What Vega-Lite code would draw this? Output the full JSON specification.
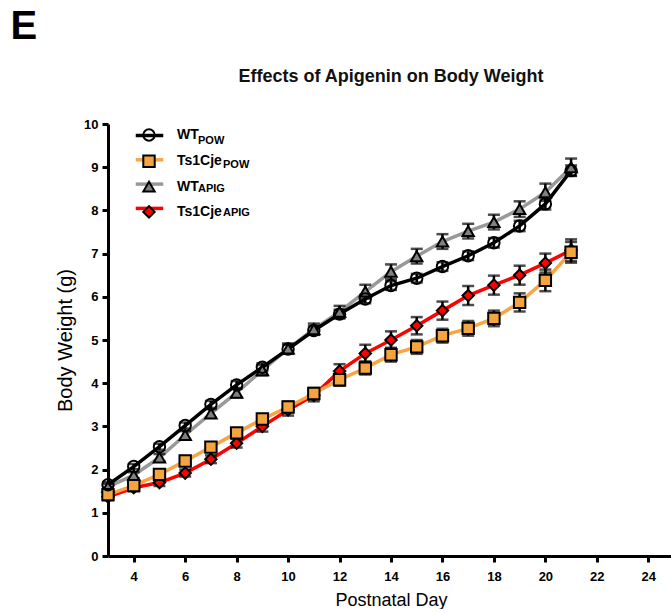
{
  "$schema": "https://vega.github.io/schema/vega-lite/v6.json",
  "background": "white",
  "padding": {"left": 10, "top": 7, "right": 0, "bottom": 0},
  "title": {"text": "E", "anchor": "start", "frame": "bounds", "font": "Liberation Sans", "fontSize": 40, "fontWeight": "bold", "color": "black", "dx": -45, "offset": 21},
  "config": {
    "view": {"stroke": null},
    "font": "Liberation Sans",
    "concat": {"spacing": 0}
  },
  "hconcat": [
    {
      "width": 566,
      "height": 432,
      "title": {"text": "Effects of Apigenin on Body Weight", "anchor": "middle", "font": "Liberation Sans", "fontSize": 18, "fontWeight": "bold", "color": "#111111", "offset": 32},
      "data": {
        "values": [
          {"day": 3, "group": "Ts1Cje_APIG", "mean": 1.37, "sem": 0.08},
          {"day": 4, "group": "Ts1Cje_APIG", "mean": 1.58, "sem": 0.08},
          {"day": 5, "group": "Ts1Cje_APIG", "mean": 1.7, "sem": 0.08},
          {"day": 6, "group": "Ts1Cje_APIG", "mean": 1.92, "sem": 0.08},
          {"day": 7, "group": "Ts1Cje_APIG", "mean": 2.24, "sem": 0.09},
          {"day": 8, "group": "Ts1Cje_APIG", "mean": 2.61, "sem": 0.1},
          {"day": 9, "group": "Ts1Cje_APIG", "mean": 3.0, "sem": 0.12},
          {"day": 10, "group": "Ts1Cje_APIG", "mean": 3.38, "sem": 0.13},
          {"day": 11, "group": "Ts1Cje_APIG", "mean": 3.72, "sem": 0.14},
          {"day": 12, "group": "Ts1Cje_APIG", "mean": 4.28, "sem": 0.16},
          {"day": 13, "group": "Ts1Cje_APIG", "mean": 4.69, "sem": 0.2},
          {"day": 14, "group": "Ts1Cje_APIG", "mean": 5.0, "sem": 0.2},
          {"day": 15, "group": "Ts1Cje_APIG", "mean": 5.33, "sem": 0.2},
          {"day": 16, "group": "Ts1Cje_APIG", "mean": 5.68, "sem": 0.21},
          {"day": 17, "group": "Ts1Cje_APIG", "mean": 6.03, "sem": 0.22},
          {"day": 18, "group": "Ts1Cje_APIG", "mean": 6.27, "sem": 0.22},
          {"day": 19, "group": "Ts1Cje_APIG", "mean": 6.5, "sem": 0.22},
          {"day": 20, "group": "Ts1Cje_APIG", "mean": 6.78, "sem": 0.22},
          {"day": 21, "group": "Ts1Cje_APIG", "mean": 7.08, "sem": 0.25},
          {"day": 3, "group": "WT_APIG", "mean": 1.6, "sem": 0.07},
          {"day": 4, "group": "WT_APIG", "mean": 1.87, "sem": 0.07},
          {"day": 5, "group": "WT_APIG", "mean": 2.28, "sem": 0.08},
          {"day": 6, "group": "WT_APIG", "mean": 2.8, "sem": 0.09},
          {"day": 7, "group": "WT_APIG", "mean": 3.3, "sem": 0.1},
          {"day": 8, "group": "WT_APIG", "mean": 3.78, "sem": 0.11},
          {"day": 9, "group": "WT_APIG", "mean": 4.3, "sem": 0.12},
          {"day": 10, "group": "WT_APIG", "mean": 4.8, "sem": 0.12},
          {"day": 11, "group": "WT_APIG", "mean": 5.25, "sem": 0.13},
          {"day": 12, "group": "WT_APIG", "mean": 5.65, "sem": 0.14},
          {"day": 13, "group": "WT_APIG", "mean": 6.12, "sem": 0.16},
          {"day": 14, "group": "WT_APIG", "mean": 6.58, "sem": 0.17},
          {"day": 15, "group": "WT_APIG", "mean": 6.94, "sem": 0.17},
          {"day": 16, "group": "WT_APIG", "mean": 7.28, "sem": 0.17},
          {"day": 17, "group": "WT_APIG", "mean": 7.52, "sem": 0.17},
          {"day": 18, "group": "WT_APIG", "mean": 7.73, "sem": 0.17},
          {"day": 19, "group": "WT_APIG", "mean": 8.03, "sem": 0.18},
          {"day": 20, "group": "WT_APIG", "mean": 8.42, "sem": 0.2},
          {"day": 21, "group": "WT_APIG", "mean": 9.0, "sem": 0.2},
          {"day": 3, "group": "Ts1Cje_POW", "mean": 1.42, "sem": 0.07},
          {"day": 4, "group": "Ts1Cje_POW", "mean": 1.63, "sem": 0.07},
          {"day": 5, "group": "Ts1Cje_POW", "mean": 1.89, "sem": 0.08},
          {"day": 6, "group": "Ts1Cje_POW", "mean": 2.2, "sem": 0.08},
          {"day": 7, "group": "Ts1Cje_POW", "mean": 2.52, "sem": 0.09},
          {"day": 8, "group": "Ts1Cje_POW", "mean": 2.85, "sem": 0.1},
          {"day": 9, "group": "Ts1Cje_POW", "mean": 3.17, "sem": 0.11},
          {"day": 10, "group": "Ts1Cje_POW", "mean": 3.45, "sem": 0.12},
          {"day": 11, "group": "Ts1Cje_POW", "mean": 3.76, "sem": 0.13},
          {"day": 12, "group": "Ts1Cje_POW", "mean": 4.08, "sem": 0.14},
          {"day": 13, "group": "Ts1Cje_POW", "mean": 4.35, "sem": 0.15},
          {"day": 14, "group": "Ts1Cje_POW", "mean": 4.66, "sem": 0.16},
          {"day": 15, "group": "Ts1Cje_POW", "mean": 4.84, "sem": 0.16},
          {"day": 16, "group": "Ts1Cje_POW", "mean": 5.1, "sem": 0.16},
          {"day": 17, "group": "Ts1Cje_POW", "mean": 5.27, "sem": 0.17},
          {"day": 18, "group": "Ts1Cje_POW", "mean": 5.5, "sem": 0.18},
          {"day": 19, "group": "Ts1Cje_POW", "mean": 5.87, "sem": 0.21},
          {"day": 20, "group": "Ts1Cje_POW", "mean": 6.38, "sem": 0.25},
          {"day": 21, "group": "Ts1Cje_POW", "mean": 7.03, "sem": 0.24},
          {"day": 3, "group": "WT_POW", "mean": 1.65, "sem": 0.06},
          {"day": 4, "group": "WT_POW", "mean": 2.07, "sem": 0.06},
          {"day": 5, "group": "WT_POW", "mean": 2.53, "sem": 0.07},
          {"day": 6, "group": "WT_POW", "mean": 3.02, "sem": 0.07},
          {"day": 7, "group": "WT_POW", "mean": 3.51, "sem": 0.08},
          {"day": 8, "group": "WT_POW", "mean": 3.96, "sem": 0.09},
          {"day": 9, "group": "WT_POW", "mean": 4.37, "sem": 0.09},
          {"day": 10, "group": "WT_POW", "mean": 4.79, "sem": 0.1},
          {"day": 11, "group": "WT_POW", "mean": 5.22, "sem": 0.1},
          {"day": 12, "group": "WT_POW", "mean": 5.6, "sem": 0.1},
          {"day": 13, "group": "WT_POW", "mean": 5.95, "sem": 0.1},
          {"day": 14, "group": "WT_POW", "mean": 6.26, "sem": 0.1},
          {"day": 15, "group": "WT_POW", "mean": 6.43, "sem": 0.1},
          {"day": 16, "group": "WT_POW", "mean": 6.7, "sem": 0.1},
          {"day": 17, "group": "WT_POW", "mean": 6.95, "sem": 0.1},
          {"day": 18, "group": "WT_POW", "mean": 7.25, "sem": 0.11},
          {"day": 19, "group": "WT_POW", "mean": 7.64, "sem": 0.12},
          {"day": 20, "group": "WT_POW", "mean": 8.15, "sem": 0.13},
          {"day": 21, "group": "WT_POW", "mean": 8.92, "sem": 0.12}
        ]
      },
      "encoding": {
        "x": {
          "field": "day", "type": "quantitative",
          "scale": {"domain": [3, 25], "nice": false, "zero": false},
          "axis": {
            "title": "Postnatal Day", "values": [4, 6, 8, 10, 12, 14, 16, 18, 20, 22, 24],
            "grid": false, "domainColor": "black", "domainWidth": 3, "tickColor": "black", "tickWidth": 3, "tickSize": 6,
            "labelFont": "Liberation Sans", "labelFontSize": 13, "labelFontWeight": "bold", "labelColor": "black", "labelPadding": 8,
            "titleFont": "Liberation Sans", "titleFontSize": 18, "titleFontWeight": "normal", "titleColor": "black", "titlePadding": 8
          }
        },
        "y": {
          "field": "mean", "type": "quantitative",
          "scale": {"domain": [0, 10], "nice": false},
          "axis": {
            "title": "Body Weight (g)", "values": [0, 1, 2, 3, 4, 5, 6, 7, 8, 9, 10],
            "grid": false, "domainColor": "black", "domainWidth": 3, "tickColor": "black", "tickWidth": 3, "tickSize": 6,
            "labelFont": "Liberation Sans", "labelFontSize": 13, "labelFontWeight": "bold", "labelColor": "black", "labelPadding": 4,
            "titleFont": "Liberation Sans", "titleFontSize": 20, "titleFontWeight": "normal", "titleColor": "black", "titlePadding": 8
          }
        }
      },
      "layer": [
        {
          "mark": {"type": "line", "strokeWidth": 3.5},
          "encoding": {
            "color": {
              "field": "group", "type": "nominal",
              "sort": ["WT_POW", "Ts1Cje_POW", "WT_APIG", "Ts1Cje_APIG"],
              "scale": {"range": ["#000000", "#F7A545", "#999999", "#FF0000"]},
              "legend": {
                "orient": "none", "legendX": 34, "legendY": 4, "title": null,
                "symbolType": "M-2.5,0L2.5,0", "symbolSize": 121, "symbolStrokeWidth": 3.5,
                "labelExpr": "split(datum.label, '_')[1]",
                "labelFont": "Liberation Sans", "labelFontSize": 14, "labelFontWeight": "bold", "labelColor": "black",
                "rowPadding": 6.3,
                "encode": {
                  "labels": {"update": {"fontSize": {"value": 11}, "dy": {"value": 5}, "dx": {"signal": "indexof(datum.value, 'WT') == 0 ? 37 : 62"}}}
                }
              }
            }
          }
        },
        {
          "mark": {"type": "errorbar", "ticks": {"size": 12, "thickness": 2.5, "color": "black"}, "rule": {"strokeWidth": 2.5, "color": "black"}, "color": "black"},
          "encoding": {
            "y": {"field": "mean", "type": "quantitative"},
            "yError": {"field": "sem"}
          }
        },
        {
          "mark": {"type": "point", "filled": false, "strokeWidth": 2, "size": 130, "opacity": 1},
          "encoding": {
            "stroke": {
              "field": "group", "type": "nominal",
              "scale": {"domain": ["WT_POW", "Ts1Cje_POW", "WT_APIG", "Ts1Cje_APIG"], "range": ["#000000", "#000000", "#000000", "#000000"]},
              "legend": {
                "orient": "none", "legendX": 34, "legendY": 4, "title": null,
                "symbolSize": 130, "symbolStrokeWidth": 2,
                "labelExpr": "split(datum.label, '_')[0]",
                "labelFont": "Liberation Sans", "labelFontSize": 14, "labelFontWeight": "bold", "labelColor": "black",
                "labelOffset": 21, "rowPadding": 6.3
              }
            },
            "fill": {
              "field": "group", "type": "nominal",
              "scale": {"domain": ["WT_POW", "Ts1Cje_POW", "WT_APIG", "Ts1Cje_APIG"], "range": ["transparent", "#F5A540", "#808080", "#FF0000"]},
              "legend": {
                "orient": "none", "legendX": 34, "legendY": 4, "title": null,
                "symbolSize": 130, "symbolStrokeWidth": 2,
                "labelExpr": "split(datum.label, '_')[0]",
                "labelFont": "Liberation Sans", "labelFontSize": 14, "labelFontWeight": "bold", "labelColor": "black",
                "labelOffset": 21, "rowPadding": 6.3
              }
            },
            "shape": {
              "field": "group", "type": "nominal",
              "scale": {"domain": ["WT_POW", "Ts1Cje_POW", "WT_APIG", "Ts1Cje_APIG"], "range": ["circle", "square", "triangle-up", "diamond"]},
              "legend": {
                "orient": "none", "legendX": 34, "legendY": 4, "title": null,
                "symbolSize": 130, "symbolStrokeWidth": 2,
                "labelExpr": "split(datum.label, '_')[0]",
                "labelFont": "Liberation Sans", "labelFontSize": 14, "labelFontWeight": "bold", "labelColor": "black",
                "labelOffset": 21, "rowPadding": 6.3
              }
            }
          }
        }
      ]
    }
  ]
}
